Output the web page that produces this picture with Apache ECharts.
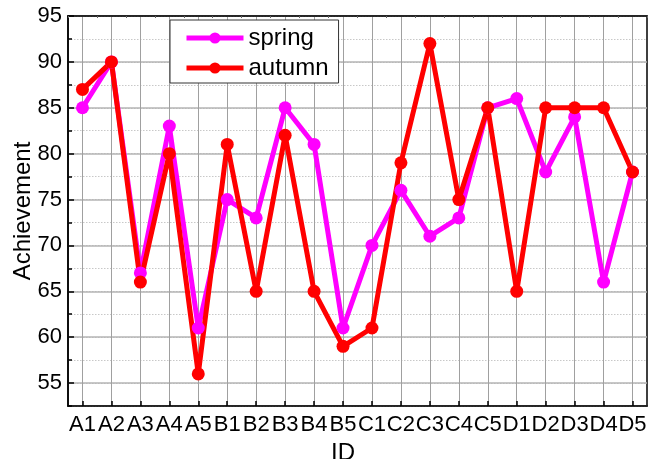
<!DOCTYPE html>
<html>
<head>
<meta charset="utf-8">
<script src="https://cdn.jsdelivr.net/npm/echarts@6/dist/echarts.min.js"></script>
<style>html,body{margin:0;padding:0;background:#fff;}#c{width:649px;height:459px;}</style>
</head>
<body>
<div id="c"></div>
<script>
var categories = ['A1','A2','A3','A4','A5','B1','B2','B3','B4','B5','C1','C2','C3','C4','C5','D1','D2','D3','D4','D5'];
var spring = [85,90,67,83,61,75,73,85,81,61,70,76,71,73,85,86,78,84,66,78];
var autumn = [87,90,66,80,56,81,65,82,65,59,61,79,92,75,85,65,85,85,85,78];
var yMin = 52.5, yMax = 95;

var FONT = 'Liberation Sans';
var chart = echarts.init(document.getElementById('c'));
chart.setOption({
  animation: false,
  backgroundColor: '#fff',
  textStyle: {fontFamily: FONT, color: '#000'},
  grid: {left: 68, right: 2, top: 16, bottom: 53, show: true, borderColor: '#000', borderWidth: 1.5,
         backgroundColor: 'transparent', containLabel: false, outerBoundsMode: 'none'},
  legend: {
    left: 170, top: 20, orient: 'vertical',
    backgroundColor: '#fff', borderColor: '#333', borderWidth: 1,
    padding: [6, 10, 3, 14], itemGap: 6, itemWidth: 57, itemHeight: 14,
    lineStyle: {width: 5},
    textStyle: {fontSize: 24, fontFamily: FONT, color: '#000', lineHeight: 24},
    data: ['spring', 'autumn']
  },
  xAxis: [
    {
      type: 'category', data: categories, position: 'bottom',
      name: 'ID', nameLocation: 'middle', nameGap: 29,
      nameTextStyle: {fontSize: 24, fontFamily: FONT, color: '#000', padding: [0, 29, 0, 0]},
      axisLine: {show: true, lineStyle: {color: '#000', width: 1.5}},
      axisTick: {show: true, inside: true, alignWithLabel: true, length: 5, lineStyle: {color: '#000', width: 1.5}},
      axisLabel: {interval: 0, fontSize: 22, fontFamily: FONT, color: '#000', margin: 8},
      splitLine: {show: true, alignWithLabel: true, interval: 0, lineStyle: {color: '#a0a0a0', width: 1}}
    },
    {
      type: 'category', data: categories, position: 'top',
      axisLine: {show: true, lineStyle: {color: '#000', width: 1.5}},
      axisTick: {show: true, inside: true, alignWithLabel: false, interval: 0, length: 2, lineStyle: {color: '#666', width: 1}},
      axisLabel: {show: false},
      splitLine: {show: false}
    }
  ],
  yAxis: [
    {
      type: 'value', min: yMin, max: yMax, interval: 2.5, position: 'left',
      name: 'Achievement', nameLocation: 'middle', nameGap: 33, nameRotate: 90,
      nameTextStyle: {fontSize: 24, fontFamily: FONT, color: '#000'},
      axisLine: {show: true, lineStyle: {color: '#000', width: 1.5}},
      axisTick: {show: true, inside: true, length: 4, lineStyle: {color: '#000', width: 1.5}},
      axisLabel: {show: false},
      splitLine: {show: true, lineStyle: {color: '#c8c8c8', width: 1, type: [1.5, 1.5]}}
    },
    {
      type: 'value', min: yMin, max: yMax, splitNumber: 9, position: 'left',
      axisLine: {show: false},
      axisTick: {show: true, inside: true, length: 6, lineStyle: {color: '#000', width: 1.5}},
      axisLabel: {
        showMinLabel: false, fontSize: 22, fontFamily: FONT, color: '#000', margin: 6,
        formatter: function (v) { return (v % 5 === 0) ? String(v) : ''; }
      },
      splitLine: {show: true, lineStyle: {color: '#b4b4b4', width: 1.5}}
    }
  ],
  series: [
    {
      name: 'spring', type: 'line', data: spring, xAxisIndex: 0, yAxisIndex: 0,
      symbol: 'circle', symbolSize: 13,
      lineStyle: {color: '#ff00ff', width: 5},
      itemStyle: {color: '#ff00ff'}
    },
    {
      name: 'autumn', type: 'line', data: autumn, xAxisIndex: 0, yAxisIndex: 0,
      symbol: 'circle', symbolSize: 13,
      lineStyle: {color: '#ff0000', width: 5},
      itemStyle: {color: '#ff0000'}
    }
  ]
});
</script>
</body>
</html>
